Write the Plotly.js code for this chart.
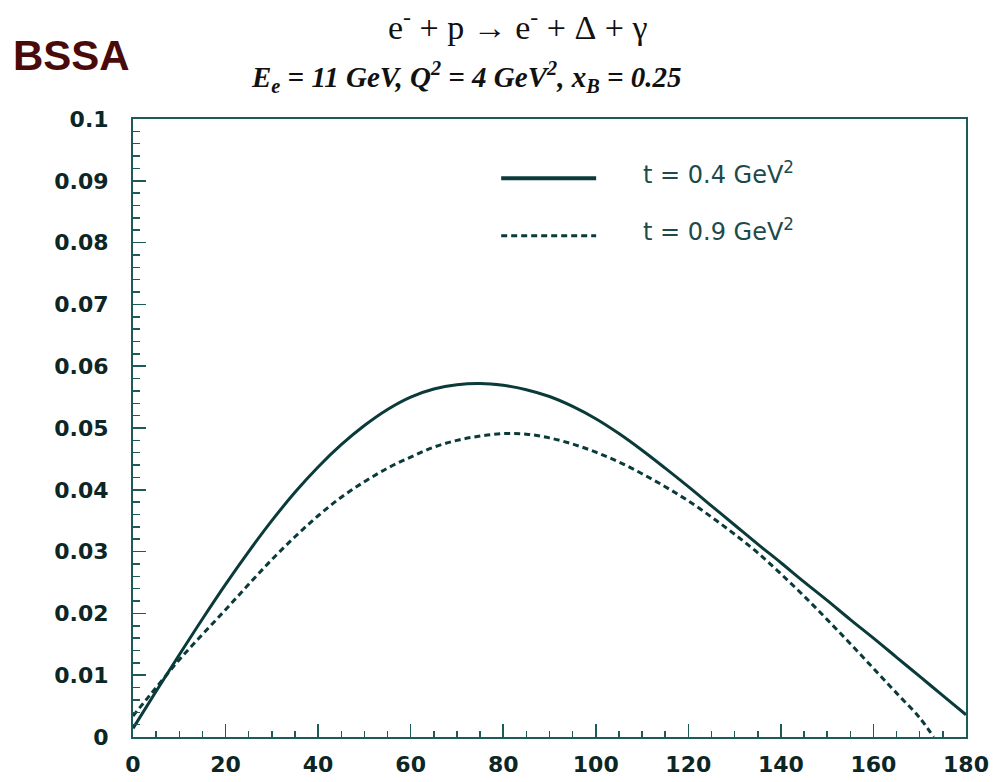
<!DOCTYPE html>
<html>
<head>
<meta charset="utf-8">
<script src="https://cdn.plot.ly/plotly-3.0.1.min.js"></script>
<style>html,body{margin:0;padding:0;background:#fff;}#chart{width:994px;height:782px;}</style>
</head>
<body>
<div id="chart"></div>
<script>
// phi angle (degrees)
const phi = [0,5,10,15,20,25,30,35,40,45,50,55,60,65,70,75,80,85,90,95,100,105,110,115,120,125,130,135,140,145,150,155,160,165,170,175,180];
// t = 0.4 GeV^2 (solid)
const bssaT04 = [0.0014,0.0074,0.0133,0.0191,0.0247,0.0300,0.0350,0.0396,0.0437,0.0473,0.0504,0.0530,0.0550,0.0563,0.0570,0.0572,0.0569,0.0562,0.0551,0.0535,0.0515,0.0491,0.0464,0.0435,0.0405,0.0374,0.0343,0.0312,0.0282,0.0251,0.0221,0.0190,0.0160,0.0129,0.0098,0.0067,0.0036];
// t = 0.9 GeV^2 (dashed)
const phiDash = [0,5,10,15,20,25,30,35,40,45,50,55,60,65,70,75,80,85,90,95,100,105,110,115,120,125,130,135,140,145,150,155,160,165,170,173];
const bssaT09 = [0.0034,0.0080,0.0125,0.0166,0.0206,0.0247,0.0287,0.0324,0.0358,0.0388,0.0413,0.0435,0.0453,0.0469,0.0480,0.0487,0.0491,0.0490,0.0484,0.0474,0.0461,0.0445,0.0426,0.0405,0.0382,0.0356,0.0328,0.0298,0.0264,0.0228,0.0190,0.0151,0.0111,0.0071,0.0031,0.0000];

const xTicks = [0,20,40,60,80,100,120,140,160,180];
const yTicks = [0,0.01,0.02,0.03,0.04,0.05,0.06,0.07,0.08,0.09,0.1];
const yTickText = ['0','0.01','0.02','0.03','0.04','0.05','0.06','0.07','0.08','0.09','0.1'];
const seriesNames = ['t&#160;=&#160;0.4&#160;GeV<sup>2</sup>','t&#160;=&#160;0.9&#160;GeV<sup>2</sup>'];

const lineCol = '#0b3a3a';
const axisCol = '#1d5a5a';
const textCol = '#0c2626';

const traces = [
  {x: phi, y: bssaT04, mode:'lines', name: seriesNames[0], line:{color:lineCol, width:3, shape:'spline', smoothing:1}, showlegend:false},
  {x: phiDash, y: bssaT09, mode:'lines', name: seriesNames[1], line:{color:lineCol, width:3, dash:'6px,4px', shape:'spline', smoothing:1}, showlegend:false}
];

const tickFont = {family:'DejaVu Sans', size:22, color:textCol, weight:'bold'};

const layout = {
  width:994, height:782,
  margin:{l:133, r:28, t:119, b:45},
  paper_bgcolor:'#fff', plot_bgcolor:'#fff',
  xaxis:{range:[0,180], tickvals:xTicks, ticks:'inside', ticklen:13, tickwidth:1.5, tickcolor:axisCol,
         showline:true, linecolor:axisCol, linewidth:2, mirror:true, showgrid:false, zeroline:false,
         tickfont:tickFont, ticklabelstandoff:7,
         minor:{dtick:5, ticks:'inside', ticklen:6, tickwidth:1.5, tickcolor:axisCol, showgrid:false}},
  yaxis:{range:[0,0.1], tickvals:yTicks, ticktext:yTickText, ticks:'inside', ticklen:13, tickwidth:1.5, tickcolor:axisCol,
         showline:true, linecolor:axisCol, linewidth:2, mirror:true, showgrid:false, zeroline:false,
         tickfont:tickFont, ticklabelstandoff:18,
         minor:{dtick:0.002, ticks:'inside', ticklen:7, tickwidth:1.5, tickcolor:axisCol, showgrid:false}},
  shapes:[
    {type:'line', xref:'paper', yref:'paper', x0:0.442, x1:0.556, y0:0.904, y1:0.904, line:{color:lineCol, width:4}},
    {type:'line', xref:'paper', yref:'paper', x0:0.442, x1:0.556, y0:0.811, y1:0.811, line:{color:lineCol, width:3, dash:'6px,4px'}}
  ],
  annotations:[
    {text:'BSSA', xref:'paper', yref:'paper', x:-0.147, y:1.102, xanchor:'left', yanchor:'middle', showarrow:false,
     font:{family:'Liberation Sans', size:42, color:'#4a0a0a', weight:'bold'}},
    {text:'e<sup>-</sup>&#160;+&#160;p&#160;\u2192&#160;e<sup>-</sup>&#160;+&#160;\u0394&#160;+&#160;\u03b3', xref:'paper', yref:'paper', x:0.461, y:1.152, xanchor:'center', yanchor:'middle', showarrow:false,
     font:{family:'Liberation Serif', size:34, color:'#111'}},
    {text:'<b><i>E<sub>e</sub> = 11 GeV, Q<sup>2</sup> = 4 GeV<sup>2</sup>, x<sub>B</sub> = 0.25</i></b>', xref:'paper', yref:'paper', x:0.40, y:1.068, xanchor:'center', yanchor:'middle', showarrow:false,
     font:{family:'Liberation Serif', size:29, color:'#111'}},
    {text:seriesNames[0], xref:'paper', yref:'paper', x:0.61, y:0.912, xanchor:'left', yanchor:'middle', showarrow:false,
     font:{family:'DejaVu Sans', size:24, color:'#1d4a4a'}},
    {text:seriesNames[1], xref:'paper', yref:'paper', x:0.61, y:0.82, xanchor:'left', yanchor:'middle', showarrow:false,
     font:{family:'DejaVu Sans', size:24, color:'#1d4a4a'}}
  ]
};

Plotly.newPlot('chart', traces, layout, {displayModeBar:false, staticPlot:true});
</script>
</body>
</html>
